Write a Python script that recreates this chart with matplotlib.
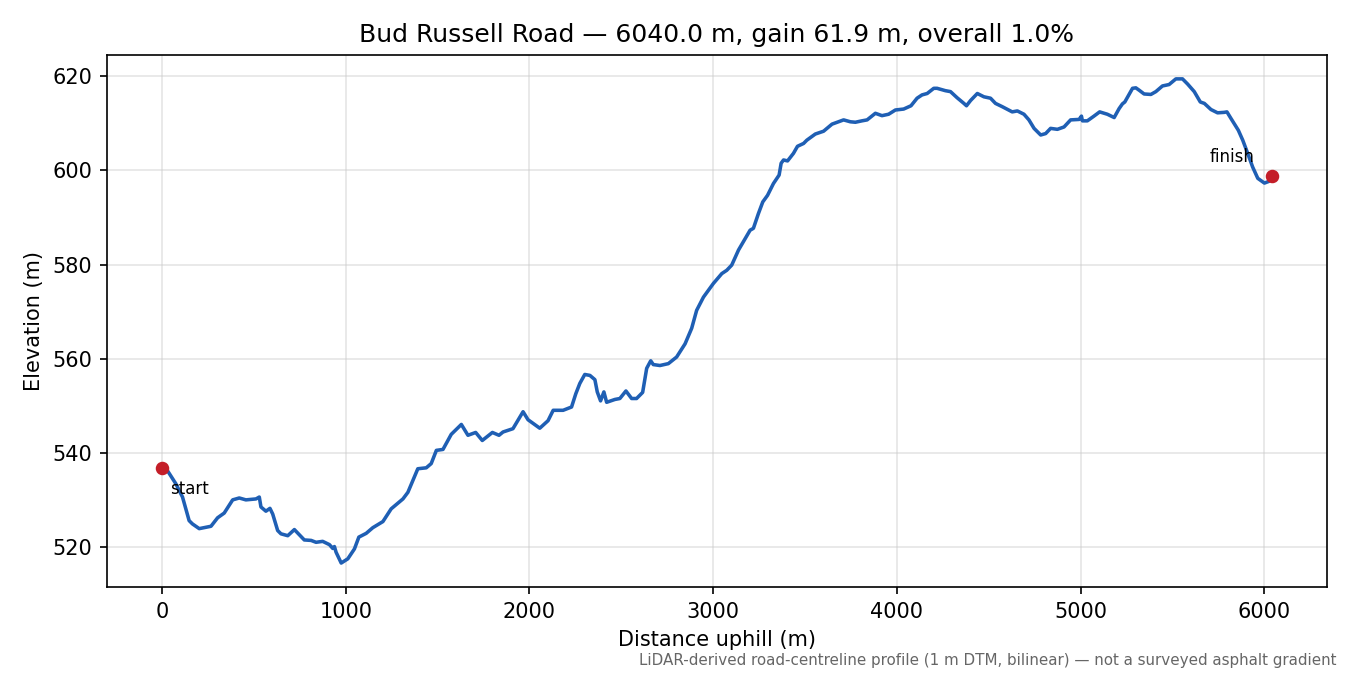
import matplotlib
matplotlib.use('Agg')
import matplotlib.pyplot as plt

# profile points (distance m, elevation m)
distance = [0, 29, 75, 111, 147, 165, 202, 266, 302, 338, 384, 420, 456, 511, 529, 538,
            565, 587, 602, 629, 647, 684, 720, 774, 811, 838, 874, 911, 929, 938, 947,
            975, 1011, 1047, 1071, 1111, 1147, 1202, 1247, 1311, 1338, 1392, 1438, 1465,
            1493, 1529, 1574, 1629, 1665, 1707, 1743, 1798, 1834, 1856, 1910, 1965, 1992,
            2056, 2101, 2129, 2183, 2229, 2252, 2274, 2301, 2329, 2356, 2369, 2387, 2405,
            2420, 2465, 2492, 2525, 2556, 2583, 2616, 2638, 2660, 2674, 2710, 2756, 2801,
            2847, 2883, 2910, 2947, 3001, 3047, 3074, 3101, 3138, 3174, 3201, 3219, 3246,
            3270, 3296, 3328, 3359, 3370, 3383, 3405, 3437, 3459, 3492, 3510, 3556, 3601,
            3647, 3710, 3747, 3774, 3810, 3838, 3883, 3919, 3955, 3992, 4037, 4077, 4110,
            4137, 4165, 4201, 4219, 4264, 4292, 4328, 4365, 4379, 4401, 4438, 4474, 4510,
            4537, 4574, 4628, 4656, 4692, 4719, 4747, 4783, 4810, 4837, 4874, 4910, 4946,
            4992, 5005, 5010, 5037, 5073, 5104, 5146, 5183, 5210, 5228, 5241, 5283, 5301,
            5319, 5346, 5383, 5410, 5446, 5482, 5519, 5555, 5583, 5619, 5652, 5674, 5710,
            5746, 5782, 5797, 5819, 5859, 5883, 5910, 5937, 5965, 6001, 6028, 6040]
elevation = [536.9, 536.3, 533.5, 530.7, 525.7, 525.0, 524.0, 524.5, 526.3, 527.3, 530.1,
             530.5, 530.1, 530.3, 530.7, 528.6, 527.7, 528.3, 527.1, 523.6, 522.9, 522.5,
             523.8, 521.6, 521.5, 521.1, 521.3, 520.6, 519.8, 520.2, 519.0, 516.7, 517.6,
             519.7, 522.2, 523.0, 524.2, 525.5, 528.2, 530.3, 531.7, 536.7, 536.9, 537.8,
             540.6, 540.8, 544.0, 546.1, 543.8, 544.4, 542.7, 544.4, 543.8, 544.5, 545.2,
             548.8, 547.1, 545.3, 546.9, 549.1, 549.1, 549.8, 552.6, 554.8, 556.7, 556.5,
             555.6, 553.0, 551.1, 553.0, 550.8, 551.4, 551.6, 553.2, 551.6, 551.6, 552.9,
             558.0, 559.6, 558.8, 558.6, 559.0, 560.4, 563.2, 566.5, 570.3, 573.1, 576.0,
             578.1, 578.8, 579.9, 583.1, 585.5, 587.3, 587.7, 590.8, 593.3, 594.7, 597.2,
             599.0, 601.5, 602.2, 602.0, 603.6, 605.1, 605.7, 606.4, 607.7, 608.3, 609.8,
             610.7, 610.3, 610.2, 610.5, 610.7, 612.1, 611.6, 611.9, 612.8, 613.0, 613.7,
             615.3, 616.0, 616.3, 617.4, 617.4, 616.9, 616.7, 615.4, 614.2, 613.7, 614.8,
             616.3, 615.6, 615.3, 614.2, 613.5, 612.4, 612.6, 611.9, 610.7, 608.9, 607.5,
             607.8, 608.9, 608.7, 609.2, 610.7, 610.8, 611.5, 610.5, 610.5, 611.5, 612.4,
             611.9, 611.2, 613.1, 614.1, 614.5, 617.4, 617.5, 617.0, 616.2, 616.1, 616.7,
             617.9, 618.2, 619.4, 619.4, 618.3, 616.7, 614.5, 614.2, 612.9, 612.2, 612.3,
             612.4, 611.0, 608.5, 606.4, 603.6, 600.7, 598.3, 597.3, 597.7, 598.8]

road = 'Bud Russell Road'
length = distance[-1]
gain = elevation[-1] - elevation[0]
overall = gain / length * 100

fig = plt.figure(figsize=(9, 4.5), dpi=150)
ax = fig.add_axes([0.079, 0.130, 0.904, 0.789])

ax.plot(distance, elevation, color='#1f5fb4', linewidth=1.7)
ax.scatter([distance[0], distance[-1]], [elevation[0], elevation[-1]],
           color='#c41e28', s=30, zorder=3)
ax.annotate('start', (distance[0], elevation[0]), xytext=(4, -10),
            textcoords='offset points', fontsize=8, ha='left', va='center')
ax.annotate('finish', (distance[-1], elevation[-1]), xytext=(-8, 9),
            textcoords='offset points', fontsize=8, ha='right', va='center')

ax.set_title(f'{road} — {length:.1f} m, gain {gain:.1f} m, overall {overall:.1f}%',
             fontsize=12)
ax.set_xlabel('Distance uphill (m)')
ax.set_ylabel('Elevation (m)')
ax.grid(True, color='#cccccc', alpha=0.5, linewidth=0.8)

fig.text(0.99, 0.022, 'LiDAR-derived road-centreline profile (1 m DTM, bilinear) — '
         'not a surveyed asphalt gradient', fontsize=7.25, color='#666666',
         ha='right', va='center')

fig.savefig('out.png', dpi=150)
